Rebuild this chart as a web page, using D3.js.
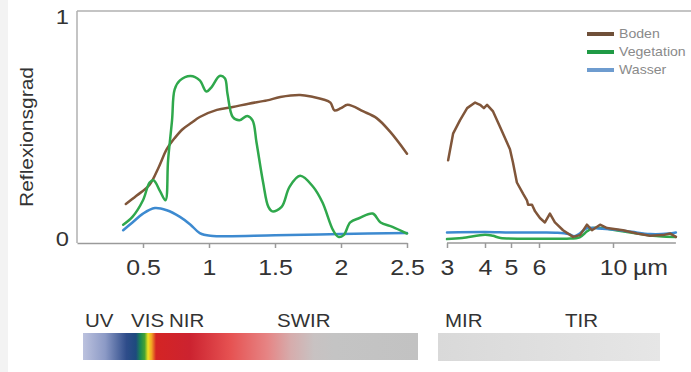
<!DOCTYPE html>
<html><head><meta charset="utf-8">
<script src="https://cdn.jsdelivr.net/npm/d3@7"></script>
<style>
html,body{margin:0;padding:0;background:#fff;}
svg{display:block;font-family:"Liberation Sans",Arial,sans-serif;}
</style></head>
<body>
<svg id="chart" width="691" height="372"></svg>
<script>
// ---------- DATA ----------
// Left panel (linear µm axis)
const leftTicks = [0.5, 1, 1.5, 2, 2.5];
const soilLeftWl = [0.37,0.45,0.55,0.62,0.68,0.74,0.80,0.87,0.93,1.06,1.18,1.30,1.44,1.54,1.69,1.79,1.86,1.92,1.95,2.0,2.05,2.17,2.27,2.37,2.5];
const soilLeftR  = [0.153,0.19,0.24,0.32,0.40,0.45,0.49,0.52,0.545,0.577,0.59,0.605,0.62,0.635,0.644,0.635,0.625,0.61,0.575,0.585,0.60,0.57,0.54,0.48,0.38];
const vegLeftWl  = [0.35,0.42,0.50,0.55,0.58,0.63,0.67,0.69,0.72,0.74,0.78,0.86,0.93,0.98,1.02,1.08,1.12,1.14,1.18,1.23,1.29,1.33,1.36,1.41,1.45,1.48,1.55,1.61,1.69,1.79,1.86,1.94,1.98,2.02,2.07,2.14,2.24,2.30,2.39,2.5];
const vegLeftR   = [0.06,0.095,0.17,0.25,0.26,0.21,0.17,0.35,0.53,0.67,0.71,0.73,0.71,0.66,0.68,0.73,0.72,0.65,0.545,0.53,0.55,0.53,0.43,0.25,0.14,0.12,0.14,0.23,0.28,0.23,0.16,0.035,0.005,0.013,0.07,0.09,0.11,0.07,0.05,0.02];
const waterLeftWl = [0.35,0.42,0.50,0.59,0.68,0.78,0.86,0.93,1.01,1.5,2.0,2.5];
const waterLeftR  = [0.035,0.07,0.11,0.135,0.125,0.095,0.06,0.022,0.01,0.012,0.018,0.022];
// Right panel (thermal, µm)
const rightTicks = [3, 4, 5, 6, 10];
const soilRightWl = [3.03,3.16,3.34,3.53,3.74,3.87,3.97,4.08,4.31,4.58,4.96,5.07,5.21,5.43,5.57,5.61,5.75,5.86,6.05,6.32,6.59,6.86,7.30,7.84,8.22,8.59,8.86,9.30,9.68,10.54,11.30,12.0,12.7,13.1,13.4];
const soilRightR  = [0.35,0.47,0.53,0.585,0.61,0.60,0.585,0.60,0.57,0.50,0.40,0.34,0.25,0.20,0.17,0.15,0.15,0.12,0.09,0.07,0.11,0.07,0.035,0.005,0.013,0.06,0.035,0.06,0.045,0.035,0.02,0.01,0.013,0.02,0.005];
const waterRightWl = [3.0,4.0,5.0,6.0,7.0,7.6,7.9,8.2,8.6,9.2,10,11,12,13,13.4];
const waterRightR  = [0.025,0.027,0.025,0.025,0.024,0.018,0.008,0.02,0.045,0.043,0.038,0.028,0.018,0.02,0.025];
const vegRightWl = [3.0,3.4,4.0,4.3,4.6,5.5,6.5,7.5,8.2,8.6,8.9,9.4,10.5,11.5,12.5,13.4];
const vegRightR  = [-0.005,0.0,0.015,0.01,0.0,-0.003,-0.003,-0.003,0.003,0.03,0.045,0.045,0.03,0.018,0.008,0.005];
// Legend / labels
const seriesNames = ["Boden", "Vegetation", "Wasser"];
const seriesColors = ["#80563a", "#2fa84c", "#3d8ad0"];
const legendColors = ["#6f5039", "#1f9a45", "#6e9ccf"];
const yTickLabels = [0, 1];
const yLabel = "Reflexionsgrad";
const bandLabels = ["UV", "VIS", "NIR", "SWIR", "MIR", "TIR"];

// ---------- LAYOUT ----------
const svg = d3.select("#chart");
const axisY = 243, frameTop = 11, frameLeft = 77;
const xL = d3.scaleLinear().domain([0, 2.5]).range([77, 407]);
const xR = d3.scaleLinear().domain([3, 4, 5, 6, 10, 14]).range([447, 485, 511, 539, 613, 687]);
const y = d3.scaleLinear().domain([0, 1]).range([238, 16]);
const SX = 1.13; // horizontal text stretch

svg.append("rect").attr("x",0).attr("y",0).attr("width",8).attr("height",372).attr("fill","#f3f3f3");

// frame
svg.append("line").attr("x1",frameLeft).attr("x2",691).attr("y1",frameTop).attr("y2",frameTop)
  .attr("stroke","#b0b0b0").attr("stroke-width",1.5);
svg.append("line").attr("x1",frameLeft).attr("x2",frameLeft).attr("y1",frameTop).attr("y2",axisY)
  .attr("stroke","#b0b0b0").attr("stroke-width",1.5);

function styleAxis(g){
  g.selectAll("line").attr("stroke","#9a9a9a").attr("stroke-width",1.5);
  g.selectAll("path.domain").attr("stroke","#9a9a9a").attr("stroke-width",1.5);
  g.selectAll("text").attr("font-size",22).attr("fill","#333")
    .attr("font-family","'Liberation Sans',Arial,sans-serif")
    .attr("transform",`scale(${SX},1)`);
}
const axL = svg.append("g").attr("transform",`translate(0,${axisY})`)
  .call(d3.axisBottom(xL).tickValues(leftTicks).tickSize(5).tickSizeOuter(0).tickPadding(11).tickFormat(d=>String(d)));
styleAxis(axL);
const axR = svg.append("g").attr("transform",`translate(0,${axisY})`)
  .call(d3.axisBottom(xR).tickValues(rightTicks).tickSize(5).tickSizeOuter(0).tickPadding(11).tickFormat(d=>String(d)));
axR.select("path.domain").remove();
styleAxis(axR);
axR.append("line").attr("x1",xR(3)).attr("x2",xR(13.4)).attr("y1",0).attr("y2",0)
  .attr("stroke","#9a9a9a").attr("stroke-width",1.5);
svg.append("text").attr("transform",`translate(633,275) scale(${SX},1)`)
  .attr("font-size",22).attr("fill","#333").text("µm");

// y tick labels
svg.selectAll("text.ytick").data(yTickLabels).enter().append("text")
  .attr("class","ytick")
  .attr("transform",d=>`translate(69,${y(d)}) scale(${SX},1)`)
  .attr("text-anchor","end").attr("dy","0.36em")
  .attr("font-size",21).attr("fill","#333").text(d=>String(d));
svg.append("text").attr("transform","translate(33,137) rotate(-90)")
  .attr("text-anchor","middle").attr("font-size",19).attr("fill","#333")
  .attr("textLength",140).attr("lengthAdjust","spacingAndGlyphs").text(yLabel);

// curves
const lineL = d3.line().x(d=>xL(d[0])).y(d=>y(d[1])).curve(d3.curveCatmullRom.alpha(0.5));
const lineR = d3.line().x(d=>xR(d[0])).y(d=>y(d[1])).curve(d3.curveCatmullRom.alpha(0.5));
const lineRlin = d3.line().x(d=>xR(d[0])).y(d=>y(d[1])).curve(d3.curveLinear);
const zip = (a,b)=>a.map((v,i)=>[v,b[i]]);
function draw(gen, wl, r, color){
  svg.append("path").attr("d",gen(zip(wl,r))).attr("fill","none")
    .attr("stroke",color).attr("stroke-width",2.5).attr("stroke-linejoin","round").attr("stroke-linecap","round");
}
draw(lineL, waterLeftWl, waterLeftR, seriesColors[2]);
draw(lineL, soilLeftWl, soilLeftR, seriesColors[0]);
draw(lineL, vegLeftWl, vegLeftR, seriesColors[1]);
draw(lineR, vegRightWl, vegRightR, seriesColors[1]);
draw(lineR, waterRightWl, waterRightR, seriesColors[2]);
draw(lineRlin, soilRightWl, soilRightR, seriesColors[0]);

// legend
const legY = [34, 52, 70];
seriesNames.forEach((n,i)=>{
  svg.append("line").attr("x1",587).attr("x2",614).attr("y1",legY[i]).attr("y2",legY[i])
    .attr("stroke",legendColors[i]).attr("stroke-width",4);
  svg.append("text").attr("transform",`translate(619,${legY[i]}) scale(${SX},1)`)
    .attr("dy","0.35em").attr("font-size",12.5).attr("fill","#8a8a8a").text(n);
});

// spectrum bars
const defs = svg.append("defs");
const grad = defs.append("linearGradient").attr("id","spec").attr("x1","0").attr("x2","1").attr("y1","0").attr("y2","0");
[[0,"#bcc2de"],[0.066,"#8c9ac6"],[0.13,"#2e4c8a"],[0.158,"#1d4a7e"],[0.172,"#1b8a52"],[0.184,"#46a232"],[0.194,"#ece224"],[0.205,"#f2a024"],[0.218,"#d42424"],[0.32,"#cc2330"],[0.44,"#e65252"],[0.55,"#e68484"],[0.62,"#d6acac"],[0.69,"#c8c2c2"],[0.75,"#c4c4c4"],[1,"#c2c2c2"]]
  .forEach(s=>grad.append("stop").attr("offset",s[0]).attr("stop-color",s[1]));
svg.append("rect").attr("x",83).attr("y",333).attr("width",335).attr("height",27).attr("fill","url(#spec)");
const grad2 = defs.append("linearGradient").attr("id","spec2").attr("x1","0").attr("x2","1");
grad2.append("stop").attr("offset",0).attr("stop-color","#d9d9d9");
grad2.append("stop").attr("offset",1).attr("stop-color","#e6e6e6");
svg.append("rect").attr("x",438).attr("y",333).attr("width",222).attr("height",28).attr("fill","url(#spec2)");

const bandX = [85, 131, 169, 277, 445, 565];
bandLabels.forEach((t,i)=>{
  svg.append("text").attr("transform",`translate(${bandX[i]},327) scale(1.08,1)`)
    .attr("font-size",19).attr("fill","#333").text(t);
});
</script>
</body></html>
